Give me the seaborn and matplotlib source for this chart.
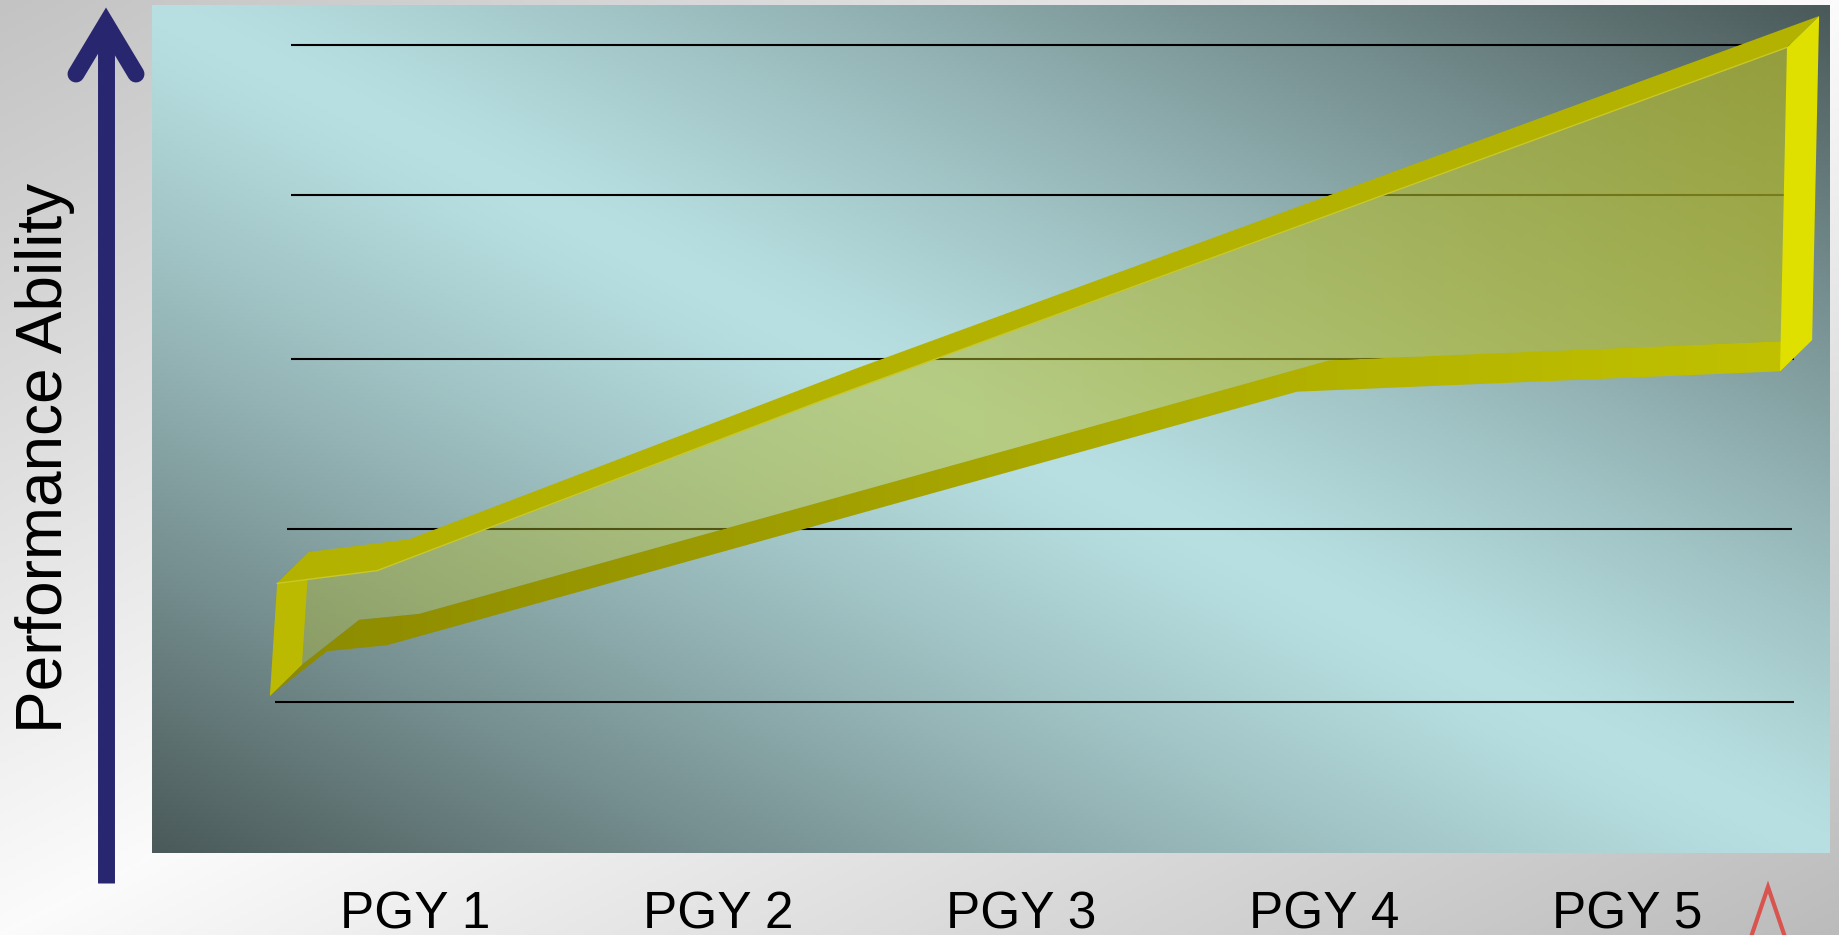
import numpy as np
import seaborn as sns
import matplotlib.pyplot as plt
from matplotlib.patches import Polygon
from matplotlib.colors import LinearSegmentedColormap

# ---- data (x in PGY units, y in performance units 0-100) ----
years = ['PGY 1', 'PGY 2', 'PGY 3', 'PGY 4', 'PGY 5']
year_pos = [1, 2, 3, 4, 5]

upper_x = [0.545, 0.875, 2.347, 5.528]
upper_y = [31.8, 33.3, 53.4, 95.0]
lower_x = [0.521, 0.710, 0.908, 3.911, 5.505]
lower_y = [18.5, 23.8, 24.5, 54.4, 56.8]

grid_y = [17.75, 38.2, 58.25, 77.6, 95.3]
grid_x0 = [0.538, 0.578, 0.591, 0.591, 0.591]
grid_x1 = [5.551, 5.545, 5.551, 5.551, 5.551]

depth = (0.106, 3.7)   # 3d offset of the ribbon

sns.set_theme(style='white')
plt.rcParams['font.family'] = ['Liberation Sans', 'DejaVu Sans']

W, H = 1839, 935
fig = plt.figure(figsize=(W / 100, H / 100), dpi=100)

# figure background: grey diagonal gradient
bg = fig.add_axes([0, 0, 1, 1], zorder=0)
X, Y = np.meshgrid(np.linspace(0, 1, 460), np.linspace(0, 1, 234))
t = (X + Y) / 2
val = np.where(t < 0.5, 0.765 + (0.985 - 0.765) * 2 * t, 0.985 - (0.985 - 0.735) * (2 * t - 1))
bg.imshow(np.dstack([val, val, val]), extent=(0, 1, 0, 1), aspect='auto', origin='upper')
bg.set_axis_off()

# plot panel
px0, px1, py_top, py_bot = 152, 1830, 5, 853
ax = fig.add_axes([px0 / W, (H - py_bot) / H, (px1 - px0) / W, (py_bot - py_top) / H], zorder=1)
xlim = (1 + (px0 - 415) / 303, 1 + (px1 - 415) / 303)
ylim = (0, 100)

U_, V_ = np.meshgrid(np.linspace(0, 1, 420), np.linspace(0, 1, 212))
mix = np.abs(U_ - V_) ** 1.2
light = np.array([184, 224, 226]) / 255
dark = np.array([74, 89, 89]) / 255
panel = light * (1 - mix[..., None]) + dark * mix[..., None]
ax.imshow(panel, extent=(xlim[0], xlim[1], ylim[0], ylim[1]), aspect='auto', origin='upper', zorder=0)

ax.hlines(grid_y, grid_x0, grid_x1, color='black', lw=1.5, zorder=2)

U = np.column_stack([upper_x, upper_y])
L = np.column_stack([lower_x, lower_y])
off = np.array(depth)

# translucent face between the two edges (more transparent on the left)
face = Polygon(np.vstack([U, (L + off)[::-1]]), closed=True, facecolor='none', lw=0, zorder=3)
ax.add_patch(face)
ramp = np.linspace(0, 1, 256)
rgba = np.zeros((1, 256, 4))
rgba[..., 0] = 180 / 255
rgba[..., 1] = 186 / 255
rgba[..., 2] = 42 / 255
rgba[..., 3] = 0.38 + 0.3 * ramp
fim = ax.imshow(rgba, aspect='auto', extent=(lower_x[0], upper_x[-1] + depth[0], 0, 100), zorder=3)
fim.set_clip_path(face)

# bottom strip with gradient shading
bot = Polygon(np.vstack([L, (L + off)[::-1]]), closed=True, facecolor='none', lw=0, zorder=4)
ax.add_patch(bot)
cm = LinearSegmentedColormap.from_list('olive', ['#8c8a00', '#a9a800', '#c2c200'])
im = ax.imshow(ramp[None, :], cmap=cm, aspect='auto',
               extent=(lower_x[0], lower_x[-1] + depth[0], 0, 100), zorder=4)
im.set_clip_path(bot)

# left cap
ax.add_patch(Polygon([U[0], L[0], L[0] + off, U[0] + off], closed=True,
                     facecolor='#bcba00', lw=0, zorder=5))
# top strip
ax.add_patch(Polygon(np.vstack([U, (U + off)[::-1]]), closed=True,
                     facecolor='#b4b200', lw=0, zorder=6))
sns.lineplot(x=upper_x, y=upper_y, color='#c8c828', lw=1.0, ax=ax, legend=False, zorder=7)
# right cap
ax.add_patch(Polygon([U[-1], L[-1], L[-1] + off, U[-1] + off], closed=True,
                     facecolor='#e0e000', lw=0, zorder=8))

ax.set_xlim(*xlim)
ax.set_ylim(*ylim)
ax.set_xticks(year_pos, years)
ax.set_yticks([])
ax.tick_params(axis='x', length=0, pad=27, labelsize=37, labelcolor='black')
for s in ax.spines.values():
    s.set_visible(False)
ax.set_xlabel('')
ax.set_ylabel('')

# overlay: axis arrow, axis title, logo fragment
ov = fig.add_axes([0, 0, 1, 1], zorder=2)
ov.set_xlim(0, W)
ov.set_ylim(H, 0)
ov.set_axis_off()
ov.patch.set_alpha(0)
navy = '#28266f'
ov.plot([106, 106], [883, 30], color=navy, lw=12.2, solid_capstyle='butt')
ov.plot([76, 106, 136], [74, 24, 74], color=navy, lw=12.2,
        solid_capstyle='round', solid_joinstyle='miter')
fig.text(45 / W, 1 - 458 / H, 'Performance Ability', rotation=90, fontsize=46,
         ha='center', va='center', color='black')
ov.plot([1750, 1768, 1786], [940, 887, 940], color='#d9534f', lw=3, solid_joinstyle='miter')

fig.savefig('out.png', dpi=100)
